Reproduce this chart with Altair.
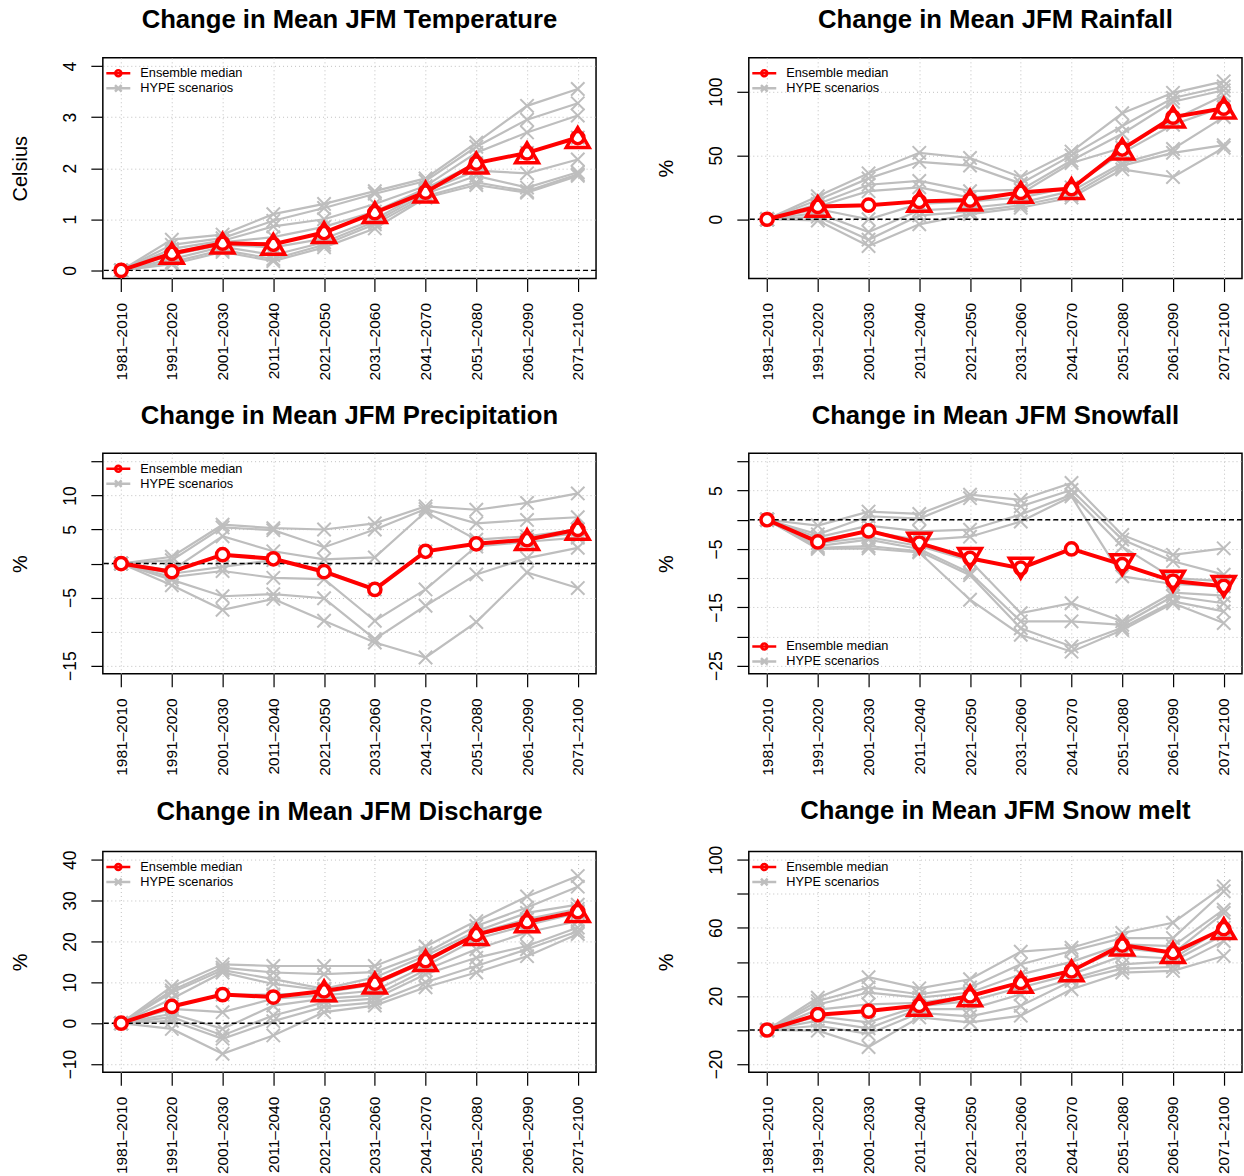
import altair as alt
import pandas as pd

FONT = "Liberation Sans"
RED = "#FF0000"
GRAY = "#BEBEBE"

PERIODS = ["1981–2010", "1991–2020", "2001–2030", "2011–2040", "2021–2050",
           "2031–2060", "2041–2070", "2051–2080", "2061–2090", "2071–2100"]
LEGEND_NAMES = ["Ensemble median", "HYPE scenarios"]

# ---------------- data ----------------
TEMP_MED = [0, 0.33, 0.53, 0.51, 0.74, 1.13, 1.53, 2.1, 2.3, 2.6]
TEMP_SIG = ["none", "up", "up", "up", "up", "up", "up", "up", "up", "up"]
TEMP_SCEN = [
    [0, 0, 0, 0, 0, 0, 0, 0],
    [0.6, 0.5, 0.42, 0.35, 0.3, 0.22, 0.16, 0.12],
    [0.7, 0.63, 0.58, 0.55, 0.5, 0.46, 0.4, 0.36],
    [1.1, 0.97, 0.86, 0.65, 0.45, 0.3, 0.22, 0.18],
    [1.3, 1.22, 1.0, 0.85, 0.62, 0.55, 0.5, 0.45],
    [1.55, 1.5, 1.3, 1.15, 1.0, 0.95, 0.9, 0.82],
    [1.8, 1.75, 1.65, 1.6, 1.55, 1.5, 1.45, 1.42],
    [2.5, 2.42, 2.3, 2.1, 1.95, 1.85, 1.72, 1.67],
    [3.22, 2.95, 2.7, 2.3, 1.9, 1.62, 1.55, 1.52],
    [3.55, 3.27, 3.03, 2.6, 2.17, 1.92, 1.88, 1.85],
]

RAIN_MED = [0, 10, 11, 14, 15, 21, 24, 55, 80, 87]
RAIN_SIG = ["none", "up", "none", "up", "up", "up", "up", "up", "up", "up"]
RAIN_SCEN = [
    [0, 0, 0, 0, 0, 0, 0, 0],
    [18, 15, 12, 10, 8, 5, 2, -1],
    [36, 32, 27, 22, 0, -10, -16, -21],
    [52, 45, 30, 25, 12, 7, 3, -4],
    [48, 42, 22, 17, 14, 9, 6, 4],
    [33, 28, 23, 20, 17, 13, 11, 9],
    [53, 50, 46, 44, 25, 22, 19, 17],
    [83, 73, 67, 56, 52, 44, 42, 39],
    [99, 95, 92, 78, 74, 55, 52, 33],
    [108, 104, 101, 97, 88, 80, 58, 56],
]

PREC_MED = [0, -1.2, 1.3, 0.7, -1.2, -3.8, 1.8, 2.9, 3.5, 5.0]
PREC_SIG = ["none", "none", "none", "none", "none", "none", "none", "none", "up", "up"]
PREC_SCEN = [
    [0, 0, 0, 0, 0, 0, 0],
    [1, 0.5, -1, -1.5, -2, -2.4, -3.2],
    [5.7, 5.3, 4, -0.5, -1.1, -4.8, -6.8],
    [5.2, 4.9, 1.8, 0.5, -2.1, -4.5, -5.2],
    [5, 2.4, 0.6, -1, -2.3, -5.1, -8.4],
    [5.9, 5.0, 0.9, -3.8, -8.4, -11.1, -11.6],
    [8.4, 8.0, 7.6, 1.8, -3.8, -6.2, -13.8],
    [7.9, 5.9, 3.5, 2.9, 2.5, -1.6, -8.6],
    [8.9, 6.4, 4, 3.5, 3.2, 0.8, -1.3],
    [10.3, 6.8, 5, 4.5, 3.8, 2.3, -3.6],
]

SNOW_MED = [0, -3.8, -1.9, -4, -6.6, -8.3, -5, -7.7, -10.5, -11.4]
SNOW_SIG = ["none", "none", "none", "down", "down", "down", "none", "down", "down", "down"]
SNOW_SCEN = [
    [0, 0, 0, 0, 0, 0, 0, 0],
    [-1, -2.5, -3, -3.5, -4, -4.5, -4.8, -5],
    [1.4, 0.6, -1, -2, -3, -3.4, -4.5, -4.9],
    [1, 0.2, -2, -3.5, -4.5, -5, -5.4, -5.6],
    [4.3, 3.7, -1.7, -2.9, -7, -9.1, -9.5, -13.7],
    [3.4, 2.3, 0.9, -0.3, -16, -17.4, -18.6, -19.7],
    [6.3, 5.1, 4.3, 4.0, -14.3, -17.4, -21.7, -22.6],
    [-2.6, -3.4, -4.6, -9.7, -17.4, -18, -18.5, -18.9],
    [-6, -7.1, -10, -11, -12.5, -13.1, -14, -14.3],
    [-4.9, -9.4, -10.5, -11.4, -13, -14.3, -15.7, -17.7],
]

DISC_MED = [0, 4.1, 7, 6.4, 7.9, 9.8, 15.3, 21.7, 24.8, 27.3]
DISC_SIG = ["none", "none", "none", "none", "up", "up", "up", "up", "up", "up"]
DISC_SCEN = [
    [0, 0, 0, 0, 0, 0, 0, 0, 0, 0],
    [9, 8, 7.5, 6, 4, 3.5, 2.3, 1.5, 0.6, -1.4],
    [14.4, 13.6, 13, 12.4, 7, 2.7, -1.4, -3, -3.8, -7.5],
    [14, 12.4, 10.8, 9.6, 7, 6, 4.3, 1.9, 0.5, -3],
    [14, 12, 8.4, 8, 7.5, 6.8, 6, 5.1, 4, 2.7],
    [14, 12.5, 11.2, 10, 9.5, 8, 6.8, 6, 5.1, 4.3],
    [18.8, 17.2, 16.5, 15.5, 15, 14, 13, 12, 10, 8.8],
    [25, 23.8, 22.5, 22, 21.5, 20.6, 18.1, 16, 14, 12.4],
    [31, 28.3, 27, 25.5, 24.6, 24, 22.2, 18.9, 18.1, 16.4],
    [36, 33.4, 29, 28, 27.4, 27, 25, 23.4, 22.5, 21.8],
]

MELT_MED = [0, 9, 11.1, 14.4, 20, 27.9, 34.7, 49.9, 45.4, 59.5]
MELT_SIG = ["none", "none", "none", "up", "up", "up", "up", "up", "up", "up"]
MELT_SCEN = [
    [0, 0, 0, 0, 0, 0, 0, 0],
    [19, 17, 15, 12, 8, 5.5, 2.5, -0.4],
    [31, 25, 22, 15, 4.5, 1, -2.3, -10],
    [24.5, 21, 19, 16, 14, 12.3, 10, 7.4],
    [29.8, 25, 22, 20, 17, 12.3, 8, 4.5],
    [46, 38.6, 32.7, 28, 25, 21, 14.2, 8.4],
    [48.3, 46.4, 40, 35, 32.7, 30, 28.8, 23.9],
    [57, 54, 50.3, 48, 43.5, 38.6, 36, 33.7],
    [63, 54, 49.3, 45, 42, 40.5, 37, 34.7],
    [84.4, 81.5, 70.7, 68.8, 60, 56, 52.2, 43.5],
]

# ---------------- styling ----------------
X_SHAPE = "M-1,-1L1,1M-1,1L1,-1"
LEG_MED_SHAPE = "M-2.4,0H2.4M0.6,0A0.6,0.6,0,1,1,-0.6,0A0.6,0.6,0,1,1,0.6,0"
LEG_SCEN_SHAPE = "M-2.4,0H2.4M-0.66,-0.66L0.66,0.66M-0.66,0.66L0.66,-0.66"

W, H = 494, 221


def panel(title, ytitle, med, sig, scen_cols, ylim, yticks, hidden, legend_bottom=False,
          title_offset=4):
    lo, hi = ylim
    ext = (hi - lo) * 0.04
    rows = []
    for i, col in enumerate(scen_cols):
        for j, v in enumerate(col):
            rows.append({"period": PERIODS[i], "scen": j, "value": v})
    sdf = pd.DataFrame(rows)
    mdf = pd.DataFrame({"period": PERIODS, "value": med, "sig": sig})
    ldf = pd.DataFrame({"period": [PERIODS[0]] * 2, "value": [0, 0], "kind": LEGEND_NAMES})

    if hidden:
        cond = " || ".join("datum.value == (%s)" % h for h in hidden)
        lab_expr = "(%s) ? '' : datum.label" % cond
    else:
        lab_expr = "datum.label"

    xenc = alt.X("period:N", sort=PERIODS,
                 scale=alt.Scale(type="point", padding=0.36),
                 axis=alt.Axis(title=None, labelAngle=-90, labelFont=FONT, labelFontSize=15.5,
                               labelColor="black", labelPadding=11, tickSize=13,
                               tickColor="black", tickWidth=1.2, domain=False,
                               labelOverlap=False,
                               grid=True, gridColor="#C0C0C0", gridDash=[1, 3], gridWidth=1))
    yenc = alt.Y("value:Q",
                 scale=alt.Scale(domain=[lo - ext, hi + ext], nice=False, zero=False),
                 axis=alt.Axis(title=ytitle, values=yticks, labelExpr=lab_expr,
                               labelAngle=-90, labelAlign="center", labelBaseline="alphabetic",
                               labelPadding=15, labelFont=FONT, labelFontSize=17.5,
                               labelColor="black", labelOverlap=False, labelSeparation=0,
                               tickSize=12, tickColor="black", tickWidth=1.2, domain=False,
                               grid=True, gridColor="#C0C0C0", gridDash=[1, 3], gridWidth=1,
                               titleFont=FONT, titleFontSize=20, titleFontWeight="normal",
                               titleColor="black", titleAngle=-90, titleX=-76.5, titleY=H / 2,
                               titleAlign="center", titleBaseline="alphabetic"))

    scen_lines = alt.Chart(sdf).mark_line(color=GRAY, strokeWidth=2.2).encode(
        x=xenc, y=yenc, detail="scen:N")
    scen_pts = alt.Chart(sdf).mark_point(shape=X_SHAPE, filled=False, color=GRAY,
                                         strokeWidth=2, size=180, opacity=1).encode(x=xenc, y=yenc)
    # baseline reference line at the value of the reference period (zero change)
    zero = alt.Chart(mdf).mark_rule(color="black", strokeDash=[5, 3],
                                    strokeWidth=1.4).encode(y=yenc).transform_filter(
        "datum.period == '%s'" % PERIODS[0])
    med_line = alt.Chart(mdf).mark_line(color=RED, strokeWidth=4).encode(x=xenc, y=yenc)
    med_pts = alt.Chart(mdf).mark_point(shape="circle", fill="white", stroke=RED,
                                        strokeWidth=3.5, size=150, opacity=1).encode(x=xenc, y=yenc)
    tri_up = alt.Chart(mdf).transform_filter("datum.sig == 'up'").mark_point(
        shape="triangle-up", filled=False, color=RED, strokeWidth=3.5, size=520,
        opacity=1).encode(x=xenc, y=yenc)
    tri_dn = alt.Chart(mdf).transform_filter("datum.sig == 'down'").mark_point(
        shape="triangle-down", filled=False, color=RED, strokeWidth=3.5, size=520,
        opacity=1).encode(x=xenc, y=yenc)

    leg_common = dict(title=None, padding=0,
                      labelFont=FONT, labelFontSize=12.8, labelColor="black", labelOffset=15.5,
                      symbolSize=100, symbolStrokeWidth=2.5, rowPadding=-2)
    if legend_bottom:
        leg = alt.Legend(orient="none", legendX=9, legendY=187, **leg_common)
    else:
        leg = alt.Legend(orient="top-left", offset=9, **leg_common)
    legend_layer = alt.Chart(ldf).transform_filter("false").mark_point(
        filled=False, opacity=1, strokeWidth=2.5).encode(
        x=xenc, y=yenc,
        color=alt.Color("kind:N", scale=alt.Scale(domain=LEGEND_NAMES, range=[RED, GRAY]), legend=leg),
        shape=alt.Shape("kind:N", scale=alt.Scale(domain=LEGEND_NAMES,
                                                  range=[LEG_MED_SHAPE, LEG_SCEN_SHAPE]), legend=leg))

    return alt.layer(scen_lines, scen_pts, zero, med_line, med_pts, tri_up, tri_dn,
                     legend_layer).properties(
        width=W, height=H,
        title=alt.TitleParams(text=title, font=FONT, fontSize=25.7, fontWeight="bold",
                              anchor="middle", frame="group", offset=title_offset,
                              baseline="alphabetic", color="black"))


p1 = panel("Change in Mean JFM Temperature", "Celsius", TEMP_MED, TEMP_SIG, TEMP_SCEN,
           (0, 4), [0, 1, 2, 3, 4], [])
p2 = panel("Change in Mean JFM Rainfall", "%", RAIN_MED, RAIN_SIG, RAIN_SCEN,
           (-40, 120), [0, 50, 100], [])
p3 = panel("Change in Mean JFM Precipitation", "%", PREC_MED, PREC_SIG, PREC_SCEN,
           (-15, 15), [-15, -10, -5, 0, 5, 10, 15], [0, -10, 15])
p4 = panel("Change in Mean JFM Snowfall", "%", SNOW_MED, SNOW_SIG, SNOW_SCEN,
           (-25, 10), [-25, -20, -15, -10, -5, 0, 5, 10], [10, 0, -10, -20], legend_bottom=True)
p5 = panel("Change in Mean JFM Discharge", "%", DISC_MED, DISC_SIG, DISC_SCEN,
           (-10, 40), [-10, 0, 10, 20, 30, 40], [])
p6 = panel("Change in Mean JFM Snow melt", "%", MELT_MED, MELT_SIG, MELT_SCEN,
           (-20, 100), [-20, 0, 20, 40, 60, 80, 100], [80, 40, 0], title_offset=1)


def row(a, b):
    return alt.hconcat(a, b, spacing=57).resolve_scale(color="independent", shape="independent")


chart = alt.vconcat(row(p1, p2), row(p3, p4), row(p5, p6), spacing=20).resolve_scale(
    color="independent", shape="independent"
).properties(
    padding={"left": 9, "top": 5, "right": 0, "bottom": 0},
    background="white",
).configure_view(stroke="black", strokeWidth=1.5).configure_axis(labelOverlap=False)

chart.save("out.html", embed_options={"renderer": "svg", "actions": False})
